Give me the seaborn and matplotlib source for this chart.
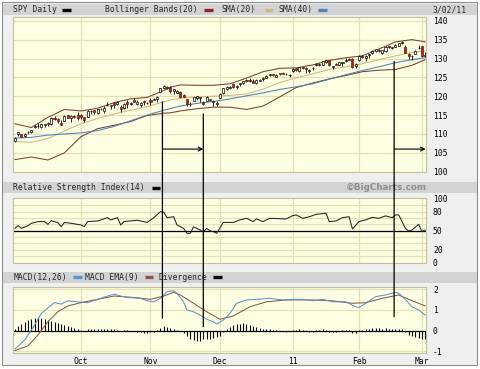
import numpy as np
import pandas as pd
import seaborn as sns
import matplotlib.pyplot as plt
from matplotlib.patches import Rectangle, ConnectionPatch
from matplotlib.lines import Line2D

# SPY daily candles, one value per trading day (2 Sep 2010 - 2 Mar 2011)
opens = [108.1, 109.9, 110.0, 109.4, 110.6, 110.6, 111.8, 112.0, 111.9, 112.4, 112.9, 112.6, 114.3, 113.9, 112.9, 113.5, 114.9, 114.3, 114.5, 115.0,
         114.9, 114.4, 114.6, 116.0, 116.3, 115.6, 116.6, 116.1, 117.6, 117.7, 118.3, 117.9, 117.2, 116.8, 118.4, 118.0, 119.0, 117.9, 117.8, 118.7, 118.1,
         119.1, 119.0, 119.3, 121.2, 122.1, 122.2, 122.5, 121.3, 120.9, 121.2, 120.4, 119.3, 117.9, 118.8, 119.6, 119.5, 118.6, 118.8, 119.2, 118.6, 117.9,
         119.6, 120.9, 121.8, 122.2, 123.3, 122.5, 123.2, 123.4, 124.3, 124.1, 124.1, 123.6, 124.1, 124.7, 124.9, 125.5, 125.7, 125.2, 125.9, 126.0, 125.9, 125.5,
         126.7, 127.4, 126.6, 127.7, 127.6, 126.6, 127.4, 128.2, 128.6, 128.2, 129.2, 129.6, 127.8, 128.6, 128.3, 128.8, 129.4, 129.7, 130.0, 128.0,
         129.5, 130.4, 130.2, 130.8, 131.4, 132.0, 132.3, 131.4, 131.9, 133.0, 133.0, 133.1, 133.4, 134.2, 133.1, 131.3, 130.6, 131.3, 132.7,
         133.3, 130.6]
highs = [109.1, 110.6, 110.1, 110.2, 110.8, 111.1, 112.4, 112.8, 112.6, 112.6, 113.1, 114.4, 114.8, 114.1, 113.6, 114.9, 115.0, 115.0, 115.0, 115.7,
         115.2, 114.6, 116.3, 116.4, 116.4, 116.7, 116.9, 117.3, 118.6, 117.8, 118.4, 118.7, 117.6, 118.3, 119.0, 118.4, 119.6, 118.9, 118.4, 118.9, 118.6,
         119.6, 119.6, 120.1, 122.3, 122.9, 122.6, 122.7, 121.9, 121.7, 121.3, 120.6, 119.4, 118.5, 119.9, 120.1, 119.9, 118.8, 120.0, 119.4, 118.9, 118.8,
         120.8, 122.3, 122.6, 122.6, 123.6, 122.9, 123.6, 124.1, 124.6, 124.9, 124.5, 124.5, 124.5, 125.0, 125.5, 125.9, 125.9, 125.8, 126.0, 126.3, 126.1, 125.9,
         127.6, 127.5, 127.7, 127.8, 127.8, 127.1, 127.8, 128.7, 128.7, 129.4, 129.6, 129.7, 128.1, 128.9, 129.2, 129.2, 130.2, 130.2, 130.1, 128.7,
         130.9, 130.8, 130.9, 131.2, 132.2, 132.5, 132.4, 132.3, 133.2, 133.4, 133.1, 133.9, 134.1, 134.7, 133.5, 131.5, 131.0, 132.2, 133.5,
         133.4, 131.6]
lows = [107.9, 109.5, 109.1, 109.3, 110.1, 110.3, 111.6, 111.6, 111.6, 111.9, 112.2, 112.5, 113.6, 113.0, 112.3, 113.4, 114.2, 113.2, 114.1, 113.6,
        114.0, 113.3, 114.5, 115.2, 115.2, 115.4, 116.3, 115.6, 117.5, 116.7, 117.0, 117.6, 115.9, 116.6, 117.0, 117.8, 118.5, 117.6, 117.2, 117.8, 118.0,
        117.8, 118.9, 118.6, 121.1, 121.9, 121.8, 120.9, 120.6, 120.8, 119.5, 119.7, 117.5, 117.3, 118.7, 119.1, 118.6, 117.8, 118.7, 118.8, 117.5, 117.4,
        119.5, 120.7, 121.7, 121.9, 122.3, 122.0, 122.7, 123.2, 123.9, 123.9, 123.4, 123.3, 124.0, 124.1, 124.8, 125.3, 125.4, 125.0, 125.6, 125.9, 125.6, 125.1,
        126.3, 126.7, 126.5, 127.1, 126.2, 126.2, 127.0, 127.9, 128.0, 128.2, 128.9, 128.0, 127.1, 128.2, 128.2, 128.0, 129.2, 129.6, 127.4, 127.4,
        129.4, 130.2, 129.4, 130.2, 131.3, 131.6, 131.6, 131.1, 131.8, 132.8, 132.5, 133.0, 133.4, 133.9, 131.4, 129.8, 129.5, 131.2, 132.4,
        130.5, 130.4]
closes = [109.01, 110.45, 109.18, 109.89, 110.42, 110.96, 112.19, 112.11, 112.51, 112.47, 112.56, 114.27, 113.98, 113.43, 112.48, 114.87, 114.22, 114.77, 114.47, 114.12,
          114.62, 113.70, 116.08, 116.00, 115.81, 116.52, 116.53, 116.98, 117.81, 117.38, 117.62, 118.47, 116.59, 117.82, 118.03, 118.31, 118.56, 118.56, 118.25, 118.38, 118.33,
          118.44, 119.36, 119.80, 122.11, 122.59, 122.33, 121.34, 121.87, 121.35, 119.92, 119.78, 117.83, 117.86, 119.67, 119.97, 119.78, 118.07, 119.84, 118.94, 118.78, 118.06,
          120.61, 122.15, 122.47, 122.31, 122.38, 122.83, 123.30, 124.04, 124.05, 124.16, 123.52, 124.29, 124.39, 124.71, 125.46, 125.88, 125.68, 125.75, 125.85, 125.98, 125.79, 125.76,
          127.19, 127.02, 127.66, 127.39, 127.15, 126.98, 127.45, 128.60, 128.38, 129.32, 129.50, 128.19, 128.03, 128.34, 129.08, 129.12, 129.66, 129.95, 127.63, 128.61,
          130.76, 130.40, 130.71, 131.09, 131.91, 132.46, 132.09, 132.19, 132.92, 133.23, 132.80, 133.63, 134.04, 134.30, 131.54, 130.74, 130.61, 131.99, 132.72,
          130.63, 130.84]

# overlay lines (trading-day position, value)
band_day = [0, 5, 10, 15, 20, 25, 30, 35, 40, 45, 47, 50, 55, 60, 65, 70, 75, 80, 85, 90, 95, 100, 105, 110, 115, 120, 124]
band_upper = [112.7, 111.7, 114.4, 116.5, 116.1, 116.8, 118.3, 119.3, 119.7, 121.5, 122.4, 123.0, 122.9, 122.9, 123.3, 124.8, 126.5, 127.4,
              127.5, 128.3, 129.5, 130.2, 130.7, 132.5, 134.4, 135.0, 134.4]
band_lower = [103.2, 103.9, 103.1, 105.0, 109.3, 111.4, 112.3, 113.3, 114.9, 115.5, 115.6, 116.1, 116.7, 117.1, 117.1, 116.5, 117.4, 119.8,
              122.3, 123.5, 124.6, 125.5, 126.5, 126.9, 127.1, 128.2, 129.7]
sma20 = [108.0, 107.8, 108.8, 110.8, 112.7, 114.1, 115.3, 116.3, 117.3, 118.5, 119.0, 119.5, 119.8, 120.0, 120.2, 120.6, 121.9, 123.6,
         124.9, 125.9, 127.1, 127.8, 128.6, 129.7, 130.7, 131.6, 132.0]
sma40_day = [0, 5, 10, 15, 20, 25, 30, 35, 40, 45, 50, 55, 60, 65, 70, 75, 80, 85, 90, 95, 100, 105, 110, 115, 120, 124]
sma40 = [108.9, 109.1, 109.7, 110.0, 110.3, 110.9, 112.0, 113.5, 115.0, 116.3, 117.4, 118.1, 118.6, 119.3, 120.1, 120.9, 121.8, 122.5,
         123.3, 124.5, 125.7, 126.8, 127.8, 128.9, 129.7, 130.2]

rsi_day = [0, 1, 2, 4, 5, 7, 9, 10, 11, 13, 14, 15, 17, 20, 21, 22, 25, 26, 28, 29, 31, 32, 33, 37, 40, 42, 44, 45, 46, 48,
           49, 51, 52, 53, 54, 55, 57, 58, 59, 60, 61, 63, 66, 68, 70, 72, 73, 75, 77, 82, 84, 85, 87, 89, 91, 94, 95, 97, 99, 101,
           102, 104, 106, 108, 110, 112, 114, 115, 116, 118, 119, 120, 122, 123, 124]
rsi = [53.6, 57.9, 53.6, 57.9, 61.6, 64.3, 64.3, 60.0, 65.8, 62.6, 56.3, 63.0, 61.6, 59.0, 56.3, 64.3, 65.3, 67.0, 70.5, 67.0,
       70.5, 59.0, 64.3, 66.4, 63.0, 70.5, 80.0, 79.0, 70.5, 72.0, 59.0, 53.6, 45.8, 45.8, 56.0, 53.6, 48.4, 53.6, 49.5, 48.4,
       45.8, 63.0, 63.0, 67.0, 69.5, 64.3, 68.5, 64.3, 69.5, 68.5, 73.8, 74.8, 69.5, 72.0, 75.7, 77.4, 64.3, 65.3, 70.5, 72.0,
       52.6, 64.3, 67.0, 71.0, 69.5, 73.3, 70.5, 74.8, 74.8, 53.6, 49.5, 51.0, 60.0, 48.4, 51.0]

macd_day = [0, 3, 6, 8, 11, 12, 14, 16, 19, 22, 25, 28, 30, 32, 34, 38, 40, 42, 44, 46, 48, 49, 51, 52, 54, 56, 58, 60, 61, 63,
            65, 67, 70, 73, 77, 81, 84, 87, 90, 93, 96, 100, 103, 104, 106, 109, 112, 115, 116, 118, 120, 122, 124]
macd = [-0.89, -0.45, 0.27, 0.83, 1.23, 1.35, 1.28, 1.44, 1.39, 1.35, 1.51, 1.67, 1.76, 1.67, 1.60, 1.56, 1.44, 1.39, 1.56, 1.88,
        1.92, 1.80, 1.39, 1.00, 0.91, 0.75, 0.55, 0.43, 0.32, 0.51, 0.83, 1.32, 1.48, 1.51, 1.56, 1.48, 1.51, 1.51, 1.44, 1.51,
        1.39, 1.39, 1.15, 1.12, 1.32, 1.64, 1.72, 1.85, 1.80, 1.51, 1.15, 1.00, 0.75]
ema_day = [0, 4, 7, 10, 13, 16, 20, 25, 30, 36, 41, 45, 48, 50, 54, 58, 62, 66, 71, 76, 82, 90, 96, 102, 106, 111, 116, 119, 124]
macd_ema = [-0.96, -0.73, -0.21, 0.43, 0.91, 1.19, 1.35, 1.51, 1.67, 1.60, 1.51, 1.67, 1.85, 1.72, 1.32, 0.91, 0.55, 0.71, 1.15, 1.39,
            1.48, 1.48, 1.44, 1.32, 1.35, 1.56, 1.72, 1.51, 1.19]
divergence = [0.10, 0.22, 0.33, 0.43, 0.50, 0.56, 0.60, 0.64, 0.60, 0.57, 0.52, 0.47, 0.43, 0.37, 0.31, 0.26, 0.21, 0.17, 0.12, 0.08,
              0.03, 0.00, 0.06, 0.07, 0.08, 0.08, 0.09, 0.08, 0.09, 0.08, 0.07, 0.01, -0.02, 0.02, 0.01, 0.00, -0.01, -0.05, -0.08, -0.10,
              -0.09, -0.07, -0.04, 0.05, 0.15, 0.23, 0.20, 0.15, 0.10, 0.05, -0.02, -0.12, -0.28, -0.40, -0.45, -0.50, -0.48, -0.42, -0.40, -0.38,
              -0.35, -0.32, -0.25, -0.05, 0.10, 0.18, 0.25, 0.30, 0.33, 0.35, 0.33, 0.28, 0.22, 0.18, 0.14, 0.10, 0.08, 0.06, 0.05, 0.03,
              0.00, -0.03, -0.04, -0.02, 0.04, 0.05, 0.06, 0.03, -0.02, -0.05, -0.04, 0.02, 0.05, 0.10, 0.05, -0.05, -0.08, -0.07, -0.03, 0.01,
              0.02, 0.02, -0.13, -0.12, 0.02, 0.05, 0.08, 0.09, 0.11, 0.12, 0.11, 0.10, 0.11, 0.10, 0.09, 0.10, 0.09, 0.07, -0.08, -0.20,
              -0.28, -0.30, -0.33, -0.40, -0.42]

month_labels = ['Oct', 'Nov', 'Dec', '11', 'Feb', 'Mar']
price_ticks = [100, 105, 110, 115, 120, 125, 130, 135, 140]
rsi_ticks = [0, 20, 50, 80, 100]
macd_ticks = [-1, 0, 1, 2]

# trading calendar -> positions
days = pd.bdate_range('2010-09-02', '2011-03-02')
days = days[~days.isin(pd.to_datetime(['2010-09-06', '2010-11-25', '2010-12-24', '2011-01-17', '2011-02-21']))]
df = pd.DataFrame({'open': opens, 'high': highs, 'low': lows, 'close': closes}, index=days)
df['pos'] = np.arange(len(df))
month_pos = list(df['pos'][df.index.month != np.roll(df.index.month, 1)])[1:]

sns.set_style('white')
plt.rcParams['axes.unicode_minus'] = False
MONO = 'DejaVu Sans Mono'
FS = 5.8

W, H = 480, 369
PANEL = '#fefee3'
GRID = '#e4e1b6'
BB_C, SMA20_C, SMA40_C = '#7a3e33', '#cdbb80', '#4a84b8'
MACD_C, EMA_C = '#5b93cf', '#8c5648'
LW = 0.75

fig = plt.figure(figsize=(4.8, 3.69), dpi=100, facecolor='white')


def box(x0, y0, x1, y1):
    return [x0 / W, 1 - y1 / H, (x1 - x0) / W, (y1 - y0) / H]


def fpt(x, y):
    return x / W, 1 - y / H


# frame and header bars
fig.add_artist(Rectangle(fpt(2, 365), 475 / W, 363 / H, transform=fig.transFigure,
                         facecolor='#efefef', edgecolor='#8d8d8d', lw=0.8, zorder=-5))
for y0, y1 in [(4, 15), (181.7, 193.3), (271.7, 282.7)]:
    fig.add_artist(Rectangle(fpt(3, y1), 474 / W, (y1 - y0) / H, transform=fig.transFigure,
                             facecolor='#d3d3d3', edgecolor='none', zorder=-4))

ax_p = fig.add_axes(box(12.7, 16.7, 426, 171.7))
ax_r = fig.add_axes(box(12.7, 198.3, 426, 263.3))
ax_m = fig.add_axes(box(12.7, 287.3, 426, 353.3))

for ax in (ax_p, ax_r, ax_m):
    ax.set_facecolor(PANEL)
    ax.set_xlim(-0.63, 124.23)
    for s in ax.spines.values():
        s.set_color('#c3c09a')
        s.set_linewidth(0.8)
    for m in month_pos:
        ax.axvline(m, color=GRID, lw=0.9, zorder=0)
    ax.yaxis.tick_right()
    ax.tick_params(axis='both', length=0, labelsize=FS, pad=5, colors='black')
    ax.set_xticks(month_pos)
    ax.tick_params(axis='x', labelbottom=False)
    ax.set_xlabel('')
    ax.set_ylabel('')

# price panel
ax_p.set_ylim(100, 141.08)
for g in price_ticks[1:]:
    ax_p.axhline(g, color=GRID, lw=0.9, zorder=0)
ax_p.set_yticks(price_ticks)

sns.lineplot(x=band_day, y=band_upper, ax=ax_p, color=BB_C, lw=LW, zorder=2)
sns.lineplot(x=band_day, y=band_lower, ax=ax_p, color=BB_C, lw=LW, zorder=2)
sns.lineplot(x=band_day, y=sma20, ax=ax_p, color=SMA20_C, lw=LW, zorder=2)
sns.lineplot(x=sma40_day, y=sma40, ax=ax_p, color=SMA40_C, lw=LW, zorder=2)

up = df['close'] >= df['open']
body_lo = df[['open', 'close']].min(axis=1)
body_h = (df['close'] - df['open']).abs().clip(lower=0.18)
ax_p.vlines(df['pos'], df['low'], df['high'], color='black', lw=0.6, zorder=3)
ax_p.bar(df['pos'], body_h, bottom=body_lo, width=0.62,
         color=np.where(up, 'white', '#b3261e'),
         edgecolor=np.where(up, 'black', '#6e1510'), linewidth=0.5, zorder=4)

# RSI panel
ax_r.set_ylim(-1.6, 101.1)
for g in range(10, 100, 10):
    ax_r.axhline(g, color=GRID, lw=0.9, zorder=0)
ax_r.axhline(50, color='black', lw=0.9, zorder=1)
ax_r.set_yticks(rsi_ticks)
sns.lineplot(x=rsi_day, y=rsi, ax=ax_r, color='#222222', lw=LW, zorder=3)

# MACD panel
ax_m.set_ylim(-1.09, 2.09)
for g in [-1, 1, 2]:
    ax_m.axhline(g, color=GRID, lw=0.9, zorder=0)
ax_m.axhline(0, color='black', lw=0.9, zorder=1)
ax_m.set_yticks(macd_ticks)
ax_m.vlines(df['pos'], 0, divergence, color='black', lw=0.8, zorder=2)
sns.lineplot(x=ema_day, y=macd_ema, ax=ax_m, color=EMA_C, lw=LW, zorder=3)
sns.lineplot(x=macd_day, y=macd, ax=ax_m, color=MACD_C, lw=LW, zorder=3)
ax_m.tick_params(axis='x', labelbottom=True, pad=2.5)
ax_m.set_xticklabels(month_labels)

for ax in (ax_p, ax_r, ax_m):
    for lab in ax.get_xticklabels() + ax.get_yticklabels():
        lab.set_fontfamily(MONO)
        lab.set_fontsize(FS)

# annotation lines and arrows
for x, top, bottom in [(44.6, 118.5, 0.6), (56.95, 115.3, 0.19), (114.6, 129.2, 0.67)]:
    fig.add_artist(ConnectionPatch(xyA=(x, top), coordsA=ax_p.transData,
                                   xyB=(x, bottom), coordsB=ax_m.transData,
                                   color='black', lw=0.9, zorder=10))
for x0, x1 in [(44.6, 56.95), (114.6, 124.1)]:
    ax_p.annotate('', xy=(x1, 106.0), xytext=(x0, 106.0),
                  arrowprops=dict(arrowstyle='->', lw=0.8, color='black', shrinkA=0, shrinkB=0,
                                  mutation_scale=7), zorder=6)

# header texts and legend swatches
def head_text(x, y, s, **kw):
    fig.text(x / W, 1 - y / H, s, fontsize=FS, family=MONO, va='center', **kw)


def swatch(x0, x1, y, c):
    fig.add_artist(Line2D([x0 / W, x1 / W], [1 - y / H, 1 - y / H], transform=fig.transFigure,
                          color=c, lw=2.4, solid_capstyle='butt'))


head_text(13.3, 9.6, 'SPY Daily')
swatch(62, 71, 9.6, 'black')
head_text(105, 9.6, 'Bollinger Bands(20)')
swatch(204, 213, 9.6, '#8b2a22')
head_text(221.7, 9.6, 'SMA(20)')
swatch(265, 273, 9.6, SMA20_C)
head_text(278.3, 9.6, 'SMA(40)')
swatch(318, 327, 9.6, SMA40_C)
head_text(467, 9.6, '3/02/11', ha='right')

head_text(13.3, 187.6, 'Relative Strength Index(14)')
swatch(151.7, 160, 187.6, 'black')
fig.text(427 / W, 1 - 187.6 / H, '\u00a9BigCharts.com', fontsize=6.3, fontweight='bold',
         color='#8e8e8e', ha='right', va='center')

head_text(13.3, 277.2, 'MACD(12,26)')
swatch(72.7, 81.7, 277.2, MACD_C)
head_text(85, 277.2, 'MACD EMA(9)')
swatch(145, 153, 277.2, EMA_C)
head_text(158.3, 277.2, 'Divergence')
swatch(213, 222, 277.2, 'black')

fig.savefig('out.png', dpi=100, facecolor=fig.get_facecolor())
